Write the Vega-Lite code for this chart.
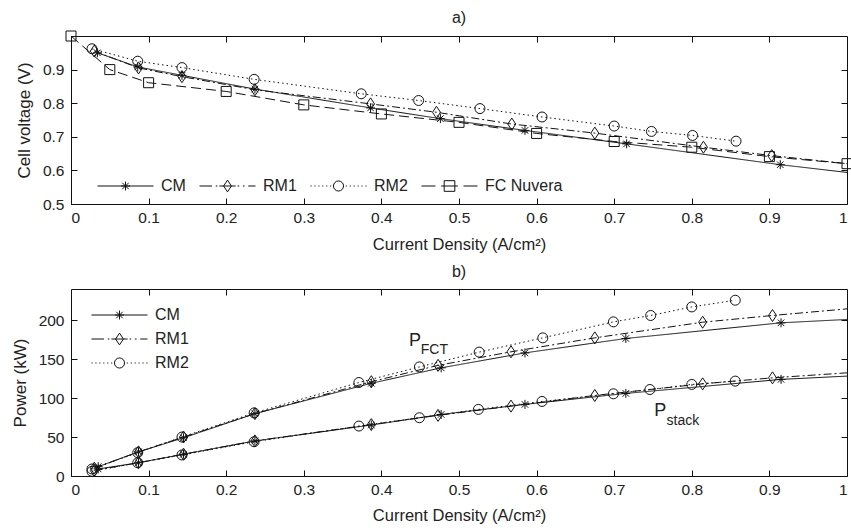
{
  "$schema": "https://vega.github.io/schema/vega-lite/v6.json",
  "background": "white",
  "padding": {"left": 10, "top": 9, "right": 3, "bottom": 5},
  "bounds": "flush",
  "spacing": 85,
  "config": {
    "font": "Liberation Sans",
    "view": {"stroke": "#111", "strokeWidth": 1},
    "axis": {"grid": false, "domain": false, "tickColor": "#111", "tickSize": -6, "tickWidth": 1,
      "labelFont": "Liberation Sans", "labelFontSize": 15.5, "labelColor": "#222",
      "titleFont": "Liberation Sans", "titleFontSize": 16.5, "titleFontWeight": "normal", "titleColor": "#222"},
    "title": {"font": "Liberation Sans", "fontSize": 16, "fontWeight": "normal", "color": "#222", "offset": 10},
    "legend": {"padding": 0, "labelFont": "Liberation Sans", "labelFontSize": 16, "labelColor": "#222",
      "symbolSize": 3136, "clipHeight": 16, "symbolStrokeColor": "#111", "symbolStrokeWidth": 1,
      "symbolFillColor": "transparent", "symbolOpacity": 1, "labelOffset": 7, "title": null}
  },
  "datasets": {
    "volt_markers": [
      {"series": "CM", "current_density": 0.034, "voltage": 0.95},
      {"series": "CM", "current_density": 0.086, "voltage": 0.908},
      {"series": "CM", "current_density": 0.143, "voltage": 0.883},
      {"series": "CM", "current_density": 0.237, "voltage": 0.842},
      {"series": "CM", "current_density": 0.386, "voltage": 0.786},
      {"series": "CM", "current_density": 0.476, "voltage": 0.754},
      {"series": "CM", "current_density": 0.585, "voltage": 0.719},
      {"series": "CM", "current_density": 0.716, "voltage": 0.679},
      {"series": "CM", "current_density": 0.914, "voltage": 0.617},
      {"series": "RM1", "current_density": 0.03, "voltage": 0.955},
      {"series": "RM1", "current_density": 0.087, "voltage": 0.905},
      {"series": "RM1", "current_density": 0.143, "voltage": 0.879},
      {"series": "RM1", "current_density": 0.237, "voltage": 0.84},
      {"series": "RM1", "current_density": 0.386, "voltage": 0.798},
      {"series": "RM1", "current_density": 0.471, "voltage": 0.773},
      {"series": "RM1", "current_density": 0.568, "voltage": 0.738},
      {"series": "RM1", "current_density": 0.675, "voltage": 0.711},
      {"series": "RM1", "current_density": 0.815, "voltage": 0.669},
      {"series": "RM1", "current_density": 0.903, "voltage": 0.644},
      {"series": "RM2", "current_density": 0.027, "voltage": 0.962},
      {"series": "RM2", "current_density": 0.086, "voltage": 0.925},
      {"series": "RM2", "current_density": 0.143, "voltage": 0.906},
      {"series": "RM2", "current_density": 0.236, "voltage": 0.871},
      {"series": "RM2", "current_density": 0.374, "voltage": 0.828},
      {"series": "RM2", "current_density": 0.448, "voltage": 0.808},
      {"series": "RM2", "current_density": 0.527, "voltage": 0.784},
      {"series": "RM2", "current_density": 0.607, "voltage": 0.759},
      {"series": "RM2", "current_density": 0.7, "voltage": 0.732},
      {"series": "RM2", "current_density": 0.748, "voltage": 0.716},
      {"series": "RM2", "current_density": 0.801, "voltage": 0.704},
      {"series": "RM2", "current_density": 0.857, "voltage": 0.687},
      {"series": "FC Nuvera", "current_density": 0.0, "voltage": 1.0},
      {"series": "FC Nuvera", "current_density": 0.05, "voltage": 0.9},
      {"series": "FC Nuvera", "current_density": 0.1, "voltage": 0.861},
      {"series": "FC Nuvera", "current_density": 0.2, "voltage": 0.835},
      {"series": "FC Nuvera", "current_density": 0.3, "voltage": 0.795},
      {"series": "FC Nuvera", "current_density": 0.4, "voltage": 0.768},
      {"series": "FC Nuvera", "current_density": 0.5, "voltage": 0.743},
      {"series": "FC Nuvera", "current_density": 0.6, "voltage": 0.71},
      {"series": "FC Nuvera", "current_density": 0.7, "voltage": 0.686},
      {"series": "FC Nuvera", "current_density": 0.8, "voltage": 0.669},
      {"series": "FC Nuvera", "current_density": 0.9, "voltage": 0.641},
      {"series": "FC Nuvera", "current_density": 1.0, "voltage": 0.62}
    ],
    "volt_line": [
      {"series": "CM", "current_density": 0.034, "voltage": 0.95},
      {"series": "CM", "current_density": 0.086, "voltage": 0.908},
      {"series": "CM", "current_density": 0.143, "voltage": 0.883},
      {"series": "CM", "current_density": 0.237, "voltage": 0.842},
      {"series": "CM", "current_density": 0.386, "voltage": 0.786},
      {"series": "CM", "current_density": 0.476, "voltage": 0.754},
      {"series": "CM", "current_density": 0.585, "voltage": 0.719},
      {"series": "CM", "current_density": 0.716, "voltage": 0.679},
      {"series": "CM", "current_density": 0.914, "voltage": 0.617},
      {"series": "CM", "current_density": 1.0, "voltage": 0.594},
      {"series": "RM1", "current_density": 0.03, "voltage": 0.955},
      {"series": "RM1", "current_density": 0.087, "voltage": 0.905},
      {"series": "RM1", "current_density": 0.143, "voltage": 0.879},
      {"series": "RM1", "current_density": 0.237, "voltage": 0.84},
      {"series": "RM1", "current_density": 0.386, "voltage": 0.798},
      {"series": "RM1", "current_density": 0.471, "voltage": 0.773},
      {"series": "RM1", "current_density": 0.568, "voltage": 0.738},
      {"series": "RM1", "current_density": 0.675, "voltage": 0.711},
      {"series": "RM1", "current_density": 0.815, "voltage": 0.669},
      {"series": "RM1", "current_density": 0.903, "voltage": 0.644},
      {"series": "RM1", "current_density": 1.0, "voltage": 0.62},
      {"series": "RM2", "current_density": 0.027, "voltage": 0.962},
      {"series": "RM2", "current_density": 0.086, "voltage": 0.925},
      {"series": "RM2", "current_density": 0.143, "voltage": 0.906},
      {"series": "RM2", "current_density": 0.236, "voltage": 0.871},
      {"series": "RM2", "current_density": 0.374, "voltage": 0.828},
      {"series": "RM2", "current_density": 0.448, "voltage": 0.808},
      {"series": "RM2", "current_density": 0.527, "voltage": 0.784},
      {"series": "RM2", "current_density": 0.607, "voltage": 0.759},
      {"series": "RM2", "current_density": 0.7, "voltage": 0.732},
      {"series": "RM2", "current_density": 0.748, "voltage": 0.716},
      {"series": "RM2", "current_density": 0.801, "voltage": 0.704},
      {"series": "RM2", "current_density": 0.857, "voltage": 0.687},
      {"series": "FC Nuvera", "current_density": 0.0, "voltage": 1.0},
      {"series": "FC Nuvera", "current_density": 0.05, "voltage": 0.9},
      {"series": "FC Nuvera", "current_density": 0.1, "voltage": 0.861},
      {"series": "FC Nuvera", "current_density": 0.2, "voltage": 0.835},
      {"series": "FC Nuvera", "current_density": 0.3, "voltage": 0.795},
      {"series": "FC Nuvera", "current_density": 0.4, "voltage": 0.768},
      {"series": "FC Nuvera", "current_density": 0.5, "voltage": 0.743},
      {"series": "FC Nuvera", "current_density": 0.6, "voltage": 0.71},
      {"series": "FC Nuvera", "current_density": 0.7, "voltage": 0.686},
      {"series": "FC Nuvera", "current_density": 0.8, "voltage": 0.669},
      {"series": "FC Nuvera", "current_density": 0.9, "voltage": 0.641},
      {"series": "FC Nuvera", "current_density": 1.0, "voltage": 0.62}
    ],
    "power_markers": [
      {"model": "CM", "quantity": "P_FCT", "current_density": 0.035, "power": 12},
      {"model": "CM", "quantity": "P_FCT", "current_density": 0.087, "power": 31},
      {"model": "CM", "quantity": "P_FCT", "current_density": 0.145, "power": 49},
      {"model": "CM", "quantity": "P_FCT", "current_density": 0.237, "power": 80},
      {"model": "CM", "quantity": "P_FCT", "current_density": 0.387, "power": 119},
      {"model": "CM", "quantity": "P_FCT", "current_density": 0.477, "power": 138.8},
      {"model": "CM", "quantity": "P_FCT", "current_density": 0.585, "power": 158},
      {"model": "CM", "quantity": "P_FCT", "current_density": 0.715, "power": 176.5},
      {"model": "CM", "quantity": "P_FCT", "current_density": 0.915, "power": 196.6},
      {"model": "RM1", "quantity": "P_FCT", "current_density": 0.03, "power": 10},
      {"model": "RM1", "quantity": "P_FCT", "current_density": 0.087, "power": 31},
      {"model": "RM1", "quantity": "P_FCT", "current_density": 0.145, "power": 50},
      {"model": "RM1", "quantity": "P_FCT", "current_density": 0.237, "power": 80},
      {"model": "RM1", "quantity": "P_FCT", "current_density": 0.387, "power": 121},
      {"model": "RM1", "quantity": "P_FCT", "current_density": 0.473, "power": 142},
      {"model": "RM1", "quantity": "P_FCT", "current_density": 0.567, "power": 159.4},
      {"model": "RM1", "quantity": "P_FCT", "current_density": 0.675, "power": 177.3},
      {"model": "RM1", "quantity": "P_FCT", "current_density": 0.814, "power": 197.4},
      {"model": "RM1", "quantity": "P_FCT", "current_density": 0.904, "power": 206},
      {"model": "RM2", "quantity": "P_FCT", "current_density": 0.027, "power": 9},
      {"model": "RM2", "quantity": "P_FCT", "current_density": 0.086, "power": 30},
      {"model": "RM2", "quantity": "P_FCT", "current_density": 0.143, "power": 50},
      {"model": "RM2", "quantity": "P_FCT", "current_density": 0.236, "power": 81},
      {"model": "RM2", "quantity": "P_FCT", "current_density": 0.371, "power": 120},
      {"model": "RM2", "quantity": "P_FCT", "current_density": 0.449, "power": 140},
      {"model": "RM2", "quantity": "P_FCT", "current_density": 0.526, "power": 159},
      {"model": "RM2", "quantity": "P_FCT", "current_density": 0.608, "power": 177.3},
      {"model": "RM2", "quantity": "P_FCT", "current_density": 0.699, "power": 197.8},
      {"model": "RM2", "quantity": "P_FCT", "current_density": 0.747, "power": 206},
      {"model": "RM2", "quantity": "P_FCT", "current_density": 0.8, "power": 217},
      {"model": "RM2", "quantity": "P_FCT", "current_density": 0.856, "power": 225.6},
      {"model": "CM", "quantity": "P_stack", "current_density": 0.035, "power": 9},
      {"model": "CM", "quantity": "P_stack", "current_density": 0.087, "power": 17},
      {"model": "CM", "quantity": "P_stack", "current_density": 0.145, "power": 28},
      {"model": "CM", "quantity": "P_stack", "current_density": 0.237, "power": 45},
      {"model": "CM", "quantity": "P_stack", "current_density": 0.387, "power": 65.4},
      {"model": "CM", "quantity": "P_stack", "current_density": 0.477, "power": 79},
      {"model": "CM", "quantity": "P_stack", "current_density": 0.585, "power": 91.9},
      {"model": "CM", "quantity": "P_stack", "current_density": 0.715, "power": 106},
      {"model": "CM", "quantity": "P_stack", "current_density": 0.915, "power": 124},
      {"model": "RM1", "quantity": "P_stack", "current_density": 0.03, "power": 7},
      {"model": "RM1", "quantity": "P_stack", "current_density": 0.087, "power": 17},
      {"model": "RM1", "quantity": "P_stack", "current_density": 0.145, "power": 28},
      {"model": "RM1", "quantity": "P_stack", "current_density": 0.237, "power": 45},
      {"model": "RM1", "quantity": "P_stack", "current_density": 0.387, "power": 66},
      {"model": "RM1", "quantity": "P_stack", "current_density": 0.473, "power": 77.8},
      {"model": "RM1", "quantity": "P_stack", "current_density": 0.567, "power": 89.7},
      {"model": "RM1", "quantity": "P_stack", "current_density": 0.675, "power": 103.4},
      {"model": "RM1", "quantity": "P_stack", "current_density": 0.814, "power": 118.3},
      {"model": "RM1", "quantity": "P_stack", "current_density": 0.904, "power": 126},
      {"model": "RM2", "quantity": "P_stack", "current_density": 0.027, "power": 6},
      {"model": "RM2", "quantity": "P_stack", "current_density": 0.086, "power": 17},
      {"model": "RM2", "quantity": "P_stack", "current_density": 0.143, "power": 27},
      {"model": "RM2", "quantity": "P_stack", "current_density": 0.236, "power": 44},
      {"model": "RM2", "quantity": "P_stack", "current_density": 0.371, "power": 64.1},
      {"model": "RM2", "quantity": "P_stack", "current_density": 0.449, "power": 74.8},
      {"model": "RM2", "quantity": "P_stack", "current_density": 0.525, "power": 85.5},
      {"model": "RM2", "quantity": "P_stack", "current_density": 0.607, "power": 95.7},
      {"model": "RM2", "quantity": "P_stack", "current_density": 0.699, "power": 105.5},
      {"model": "RM2", "quantity": "P_stack", "current_density": 0.746, "power": 111},
      {"model": "RM2", "quantity": "P_stack", "current_density": 0.8, "power": 117.5},
      {"model": "RM2", "quantity": "P_stack", "current_density": 0.856, "power": 121.8}
    ],
    "power_line": [
      {"model": "CM", "quantity": "P_FCT", "current_density": 0.035, "power": 12},
      {"model": "CM", "quantity": "P_FCT", "current_density": 0.087, "power": 31},
      {"model": "CM", "quantity": "P_FCT", "current_density": 0.145, "power": 49},
      {"model": "CM", "quantity": "P_FCT", "current_density": 0.237, "power": 80},
      {"model": "CM", "quantity": "P_FCT", "current_density": 0.387, "power": 119},
      {"model": "CM", "quantity": "P_FCT", "current_density": 0.477, "power": 138.8},
      {"model": "CM", "quantity": "P_FCT", "current_density": 0.585, "power": 158},
      {"model": "CM", "quantity": "P_FCT", "current_density": 0.715, "power": 176.5},
      {"model": "CM", "quantity": "P_FCT", "current_density": 0.915, "power": 196.6},
      {"model": "CM", "quantity": "P_FCT", "current_density": 1.0, "power": 200.9},
      {"model": "RM1", "quantity": "P_FCT", "current_density": 0.03, "power": 10},
      {"model": "RM1", "quantity": "P_FCT", "current_density": 0.087, "power": 31},
      {"model": "RM1", "quantity": "P_FCT", "current_density": 0.145, "power": 50},
      {"model": "RM1", "quantity": "P_FCT", "current_density": 0.237, "power": 80},
      {"model": "RM1", "quantity": "P_FCT", "current_density": 0.387, "power": 121},
      {"model": "RM1", "quantity": "P_FCT", "current_density": 0.473, "power": 142},
      {"model": "RM1", "quantity": "P_FCT", "current_density": 0.567, "power": 159.4},
      {"model": "RM1", "quantity": "P_FCT", "current_density": 0.675, "power": 177.3},
      {"model": "RM1", "quantity": "P_FCT", "current_density": 0.814, "power": 197.4},
      {"model": "RM1", "quantity": "P_FCT", "current_density": 0.904, "power": 206},
      {"model": "RM1", "quantity": "P_FCT", "current_density": 1.0, "power": 214.5},
      {"model": "RM2", "quantity": "P_FCT", "current_density": 0.027, "power": 9},
      {"model": "RM2", "quantity": "P_FCT", "current_density": 0.086, "power": 30},
      {"model": "RM2", "quantity": "P_FCT", "current_density": 0.143, "power": 50},
      {"model": "RM2", "quantity": "P_FCT", "current_density": 0.236, "power": 81},
      {"model": "RM2", "quantity": "P_FCT", "current_density": 0.371, "power": 120},
      {"model": "RM2", "quantity": "P_FCT", "current_density": 0.449, "power": 140},
      {"model": "RM2", "quantity": "P_FCT", "current_density": 0.526, "power": 159},
      {"model": "RM2", "quantity": "P_FCT", "current_density": 0.608, "power": 177.3},
      {"model": "RM2", "quantity": "P_FCT", "current_density": 0.699, "power": 197.8},
      {"model": "RM2", "quantity": "P_FCT", "current_density": 0.747, "power": 206},
      {"model": "RM2", "quantity": "P_FCT", "current_density": 0.8, "power": 217},
      {"model": "RM2", "quantity": "P_FCT", "current_density": 0.856, "power": 225.6},
      {"model": "CM", "quantity": "P_stack", "current_density": 0.035, "power": 9},
      {"model": "CM", "quantity": "P_stack", "current_density": 0.087, "power": 17},
      {"model": "CM", "quantity": "P_stack", "current_density": 0.145, "power": 28},
      {"model": "CM", "quantity": "P_stack", "current_density": 0.237, "power": 45},
      {"model": "CM", "quantity": "P_stack", "current_density": 0.387, "power": 65.4},
      {"model": "CM", "quantity": "P_stack", "current_density": 0.477, "power": 79},
      {"model": "CM", "quantity": "P_stack", "current_density": 0.585, "power": 91.9},
      {"model": "CM", "quantity": "P_stack", "current_density": 0.715, "power": 106},
      {"model": "CM", "quantity": "P_stack", "current_density": 0.915, "power": 124},
      {"model": "CM", "quantity": "P_stack", "current_density": 1.0, "power": 128.2},
      {"model": "RM1", "quantity": "P_stack", "current_density": 0.03, "power": 7},
      {"model": "RM1", "quantity": "P_stack", "current_density": 0.087, "power": 17},
      {"model": "RM1", "quantity": "P_stack", "current_density": 0.145, "power": 28},
      {"model": "RM1", "quantity": "P_stack", "current_density": 0.237, "power": 45},
      {"model": "RM1", "quantity": "P_stack", "current_density": 0.387, "power": 66},
      {"model": "RM1", "quantity": "P_stack", "current_density": 0.473, "power": 77.8},
      {"model": "RM1", "quantity": "P_stack", "current_density": 0.567, "power": 89.7},
      {"model": "RM1", "quantity": "P_stack", "current_density": 0.675, "power": 103.4},
      {"model": "RM1", "quantity": "P_stack", "current_density": 0.814, "power": 118.3},
      {"model": "RM1", "quantity": "P_stack", "current_density": 0.904, "power": 126},
      {"model": "RM1", "quantity": "P_stack", "current_density": 1.0, "power": 132.4},
      {"model": "RM2", "quantity": "P_stack", "current_density": 0.027, "power": 6},
      {"model": "RM2", "quantity": "P_stack", "current_density": 0.086, "power": 17},
      {"model": "RM2", "quantity": "P_stack", "current_density": 0.143, "power": 27},
      {"model": "RM2", "quantity": "P_stack", "current_density": 0.236, "power": 44},
      {"model": "RM2", "quantity": "P_stack", "current_density": 0.371, "power": 64.1},
      {"model": "RM2", "quantity": "P_stack", "current_density": 0.449, "power": 74.8},
      {"model": "RM2", "quantity": "P_stack", "current_density": 0.525, "power": 85.5},
      {"model": "RM2", "quantity": "P_stack", "current_density": 0.607, "power": 95.7},
      {"model": "RM2", "quantity": "P_stack", "current_density": 0.699, "power": 105.5},
      {"model": "RM2", "quantity": "P_stack", "current_density": 0.746, "power": 111},
      {"model": "RM2", "quantity": "P_stack", "current_density": 0.8, "power": 117.5},
      {"model": "RM2", "quantity": "P_stack", "current_density": 0.856, "power": 121.8}
    ],
    "label_main": [
      {"current_density": 0.4357, "power": 166.7, "label": "P"},
      {"current_density": 0.7516, "power": 76.9, "label": "P"}
    ],
    "label_sub": [
      {"current_density": 0.4508, "power": 156.4, "label": "FCT"},
      {"current_density": 0.7674, "power": 65.4, "label": "stack"}
    ]
  },
  "vconcat": [
    {
      "title": {"text": "a)", "offset": 3},
      "width": 776,
      "height": 168,
      "layer": [
        {
          "data": {"name": "volt_line"},
          "mark": {"type": "line", "color": "#111", "strokeWidth": 1},
          "encoding": {
            "x": {"field": "current_density", "type": "quantitative",
              "scale": {"domain": [0, 1], "nice": false, "zero": false},
              "axis": {"values": [0, 0.1, 0.2, 0.3, 0.4, 0.5, 0.6, 0.7, 0.8, 0.9, 1], "format": "~g",
                "title": "Current Density (A/cm²)", "labelPadding": 12, "titlePadding": 11}},
            "y": {"field": "voltage", "type": "quantitative",
              "scale": {"domain": [0.5, 1], "nice": false, "zero": false},
              "axis": {"values": [0.5, 0.6, 0.7, 0.8, 0.9], "format": ".1f",
                "title": "Cell voltage  (V)", "titleFontSize": 17, "labelPadding": 13, "titlePadding": 9}},
            "detail": {"field": "series", "type": "nominal"},
            "strokeDash": {"field": "series", "type": "nominal",
              "scale": {"domain": ["CM", "RM1", "RM2", "FC Nuvera"], "range": [[1, 0], [8, 3, 2, 3], [1.5, 3], [10, 5]]},
              "legend": null}
          }
        },
        {
          "data": {"name": "volt_markers"},
          "mark": {"type": "point", "filled": false, "color": "#111", "strokeWidth": 1, "size": 100, "opacity": 1},
          "encoding": {
            "x": {"field": "current_density", "type": "quantitative", "axis": null},
            "y": {"field": "voltage", "type": "quantitative", "axis": null},
            "shape": {"field": "series", "type": "nominal",
              "scale": {"domain": ["CM", "RM1", "RM2", "FC Nuvera"],
                "range": ["M0,-0.9V0.9M-0.9,0H0.9M-0.65,-0.65L0.65,0.65M-0.65,0.65L0.65,-0.65",
                  "M-0.8,0L0,-1.2L0.8,0L0,1.2Z",
                  "M1,0A1,1 0 1,1 -1,0A1,1 0 1,1 1,0Z",
                  "M-1,-1H1V1H-1Z"]},
              "legend": null}
          }
        },
        {
          "data": {"name": "volt_markers"},
          "transform": [{"filter": "false"}],
          "mark": {"type": "point", "filled": false, "color": "#111", "strokeWidth": 1, "opacity": 1},
          "encoding": {
            "x": {"field": "current_density", "type": "quantitative",
              "axis": {"orient": "top", "labels": false, "title": null, "values": [0.1, 0.2, 0.3, 0.4, 0.5, 0.6, 0.7, 0.8, 0.9]}},
            "y": {"field": "voltage", "type": "quantitative",
              "axis": {"orient": "right", "labels": false, "title": null, "values": [0.6, 0.7, 0.8, 0.9]}},
            "shape": {"field": "series", "type": "nominal",
              "scale": {"domain": ["CM", "RM1", "RM2", "FC Nuvera"],
                "range": ["M-1,0H1M0,-0.16V0.16M-0.16,0H0.16M-0.115,-0.115L0.115,0.115M-0.115,0.115L0.115,-0.115",
                  "M-1,0H-0.55M-0.42,0H-0.36M-0.29,0H0.29M0.36,0H0.42M0.55,0H0.61M0.74,0H1M-0.14,0L0,-0.21L0.14,0L0,0.21Z",
                  "M-1,0H-0.96M-0.86,0H-0.82M-0.72,0H-0.68M-0.58,0H-0.54M-0.44,0H-0.4M-0.3,0H-0.26M0.26,0H0.3M0.4,0H0.44M0.54,0H0.58M0.68,0H0.72M0.82,0H0.86M0.96,0H1M0.18,0A0.18,0.18 0 1,1 -0.18,0A0.18,0.18 0 1,1 0.18,0Z",
                  "M-1,0H-0.5M-0.3,0H0.3M0.5,0H1M-0.19,-0.19H0.19V0.19H-0.19Z"]},
              "legend": {"orient": "none", "legendX": 26, "legendY": 142, "direction": "horizontal", "columns": 4, "columnPadding": 13}}
          }
        }
      ],
      "resolve": {"scale": {"shape": "independent"}, "legend": {"shape": "independent"}, "axis": {"x": "independent", "y": "independent"}}
    },
    {
      "title": {"text": "b)", "offset": 9},
      "width": 776,
      "height": 187,
      "layer": [
        {
          "data": {"name": "power_line"},
          "mark": {"type": "line", "color": "#111", "strokeWidth": 1},
          "encoding": {
            "x": {"field": "current_density", "type": "quantitative",
              "scale": {"domain": [0, 1], "nice": false, "zero": false},
              "axis": {"values": [0, 0.1, 0.2, 0.3, 0.4, 0.5, 0.6, 0.7, 0.8, 0.9, 1], "format": "~g",
                "title": "Current Density (A/cm²)", "labelPadding": 12, "titlePadding": 10}},
            "y": {"field": "power", "type": "quantitative",
              "scale": {"domain": [0, 240], "nice": false},
              "axis": {"values": [0, 50, 100, 150, 200], "format": "d",
                "title": "Power (kW)", "titleFontSize": 17, "labelPadding": 13, "titlePadding": 9}},
            "detail": {"field": "quantity", "type": "nominal"},
            "strokeDash": {"field": "model", "type": "nominal",
              "scale": {"domain": ["CM", "RM1", "RM2"], "range": [[1, 0], [8, 3, 2, 3], [1.5, 3]]},
              "legend": null}
          }
        },
        {
          "data": {"name": "power_markers"},
          "mark": {"type": "point", "filled": false, "color": "#111", "strokeWidth": 1, "size": 100, "opacity": 1},
          "encoding": {
            "x": {"field": "current_density", "type": "quantitative", "axis": null},
            "y": {"field": "power", "type": "quantitative", "axis": null},
            "shape": {"field": "model", "type": "nominal",
              "scale": {"domain": ["CM", "RM1", "RM2"],
                "range": ["M0,-0.9V0.9M-0.9,0H0.9M-0.65,-0.65L0.65,0.65M-0.65,0.65L0.65,-0.65",
                  "M-0.8,0L0,-1.2L0.8,0L0,1.2Z",
                  "M1,0A1,1 0 1,1 -1,0A1,1 0 1,1 1,0Z"]},
              "legend": null}
          }
        },
        {
          "data": {"name": "label_main"},
          "mark": {"type": "text", "align": "left", "baseline": "alphabetic", "fontSize": 18, "font": "Liberation Sans", "color": "#222"},
          "encoding": {
            "x": {"field": "current_density", "type": "quantitative", "axis": null},
            "y": {"field": "power", "type": "quantitative", "axis": null},
            "text": {"field": "label", "type": "nominal"}
          }
        },
        {
          "data": {"name": "label_sub"},
          "mark": {"type": "text", "align": "left", "baseline": "alphabetic", "fontSize": 14, "font": "Liberation Sans", "color": "#222"},
          "encoding": {
            "x": {"field": "current_density", "type": "quantitative", "axis": null},
            "y": {"field": "power", "type": "quantitative", "axis": null},
            "text": {"field": "label", "type": "nominal"}
          }
        },
        {
          "data": {"name": "power_markers"},
          "transform": [{"filter": "false"}],
          "mark": {"type": "point", "filled": false, "color": "#111", "strokeWidth": 1, "opacity": 1},
          "encoding": {
            "x": {"field": "current_density", "type": "quantitative",
              "axis": {"orient": "top", "labels": false, "title": null, "values": [0.1, 0.2, 0.3, 0.4, 0.5, 0.6, 0.7, 0.8, 0.9]}},
            "y": {"field": "power", "type": "quantitative",
              "axis": {"orient": "right", "labels": false, "title": null, "values": [50, 100, 150, 200]}},
            "shape": {"field": "model", "type": "nominal",
              "scale": {"domain": ["CM", "RM1", "RM2"],
                "range": ["M-1,0H1M0,-0.16V0.16M-0.16,0H0.16M-0.115,-0.115L0.115,0.115M-0.115,0.115L0.115,-0.115",
                  "M-1,0H-0.55M-0.42,0H-0.36M-0.29,0H0.29M0.36,0H0.42M0.55,0H0.61M0.74,0H1M-0.14,0L0,-0.21L0.14,0L0,0.21Z",
                  "M-1,0H-0.96M-0.86,0H-0.82M-0.72,0H-0.68M-0.58,0H-0.54M-0.44,0H-0.4M-0.3,0H-0.26M0.26,0H0.3M0.4,0H0.44M0.54,0H0.58M0.68,0H0.72M0.82,0H0.86M0.96,0H1M0.18,0A0.18,0.18 0 1,1 -0.18,0A0.18,0.18 0 1,1 0.18,0Z"]},
              "legend": {"orient": "none", "legendX": 20, "legendY": 18, "direction": "vertical", "rowPadding": 8}}
          }
        }
      ],
      "resolve": {"scale": {"shape": "independent"}, "legend": {"shape": "independent"}, "axis": {"x": "independent", "y": "independent"}}
    }
  ]
}
